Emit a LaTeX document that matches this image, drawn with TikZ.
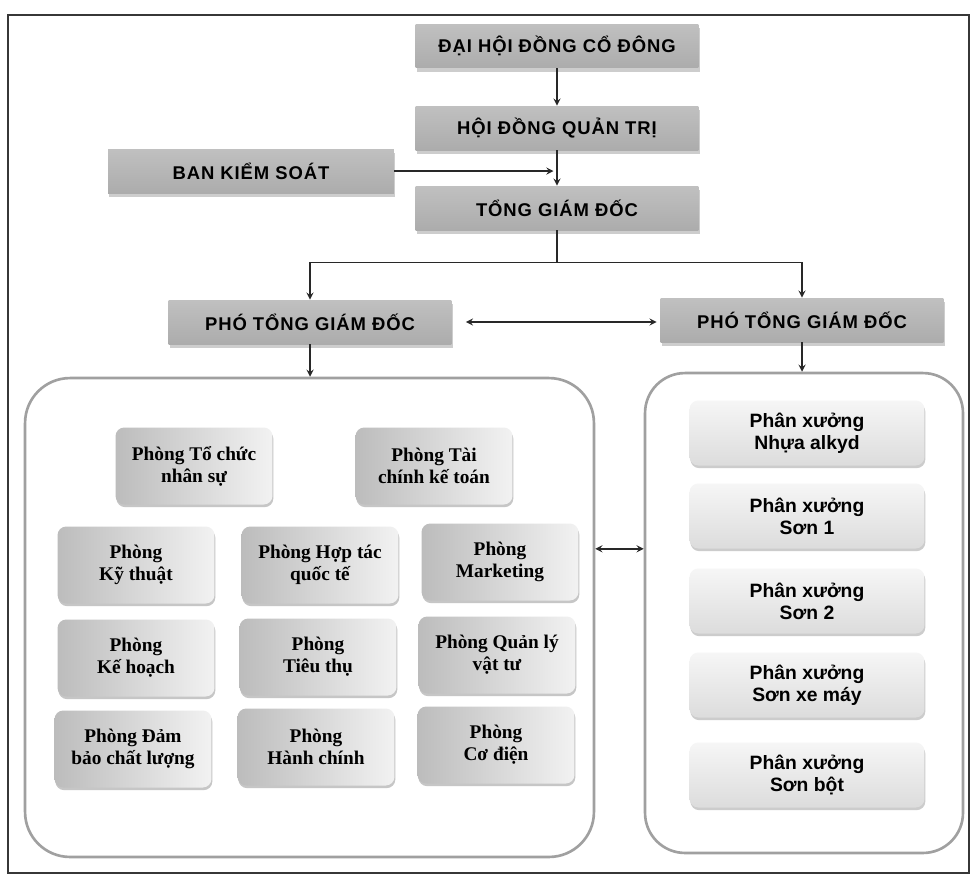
\documentclass[tikz,border=0pt]{standalone}
\usepackage{fontspec}
\setmainfont{Liberation Serif}
\setsansfont{Liberation Sans}
\newfontfamily\capsfont[LetterSpace=5]{Liberation Sans}
\usepackage{tikz}
\usetikzlibrary{arrows,shapes,positioning,shadows}
\definecolor{hdgray}{RGB}{172,172,172}
\definecolor{hdgraytop}{RGB}{192,192,192}
\definecolor{hdshadow}{RGB}{205,205,205}
\definecolor{dpgray}{RGB}{188,188,188}
\definecolor{dplight}{RGB}{242,242,242}
\definecolor{wsgray}{RGB}{220,220,220}
\definecolor{wslight}{RGB}{246,246,246}
\definecolor{framegray}{RGB}{55,55,55}
\definecolor{boxline}{RGB}{160,160,160}
\definecolor{arrowgray}{RGB}{40,40,40}
\tikzstyle{header} = [rectangle, minimum width=5.66cm, minimum height=0.88cm, text centered, top color=hdgraytop, bottom color=hdgray, drop shadow={shadow xshift=0.6pt, shadow yshift=-2pt, fill=hdshadow, opacity=1}, font=\capsfont\bfseries\fontsize{10.5}{12}\selectfont]
\tikzstyle{dept} = [rectangle, rounded corners=5pt, minimum width=3.14cm, minimum height=1.54cm, align=center, left color=dpgray, right color=dplight, drop shadow={shadow xshift=0.5pt, shadow yshift=-1.5pt, fill=gray!45, opacity=1}, font=\bfseries\fontsize{11}{12.5}\selectfont]
\tikzstyle{shop} = [rectangle, rounded corners=5pt, minimum width=4.7cm, minimum height=1.3cm, align=center, top color=wslight, bottom color=wsgray, drop shadow={shadow xshift=0.5pt, shadow yshift=-1.5pt, fill=gray!40, opacity=1}, font=\sffamily\bfseries\fontsize{11}{12.5}\selectfont]
\tikzstyle{group} = [rectangle, rounded corners=0.9cm, draw=boxline, line width=1.5pt, fill=white]
\tikzstyle{arrow} = [thick,->,>=stealth,color=arrowgray]
\tikzstyle{biarrow} = [thick,<->,>=stealth,color=arrowgray]

\begin{document}
\begin{tikzpicture}[x=0.02cm, y=-0.02cm]
\useasboundingbox (0,0) rectangle (972,876);
\draw[framegray, line width=1pt] (8,15) rectangle (969,873);

% Management
\node (dhcd) [header] at (557,46) {ĐẠI HỘI ĐỒNG CỔ ĐÔNG};
\node (hdqt) [header] at (557,128) {HỘI ĐỒNG QUẢN TRỊ};
\node (tgd) [header] at (557,208) {TỔNG GIÁM ĐỐC};
\node (bks) [header, minimum width=5.72cm] at (251,171) {BAN KIỂM SOÁT};
\node (pho1) [header] at (310,322) {PHÓ TỔNG GIÁM ĐỐC};
\node (pho2) [header] at (802,320) {PHÓ TỔNG GIÁM ĐỐC};

% Arrows between levels
\draw[arrow] (dhcd) -- (hdqt);
\draw[arrow] (hdqt) -- (tgd);
\draw[arrow] (bks.east) -- ([xshift=-2pt]bks.east -| hdqt.south);
\draw[thick, arrowgray] (tgd.south) -- ++(0,32) coordinate (split);
\draw[arrow] (split) -| (pho1.north);
\draw[arrow] (split) -| (pho2.north);
\draw[biarrow, shorten <=8pt, shorten >=2pt] (pho1.east) -- (pho1.east -| pho2.west);

% Groups
\node (staff) [group, minimum width=11.38cm, minimum height=9.58cm] at (309.5,617.5) {};
\node (plant) [group, minimum width=6.36cm, minimum height=9.6cm, rounded corners=0.8cm] at (804,613) {};
\draw[arrow] (pho1.south) -- (pho1.south |- staff.north);
\draw[arrow] (pho2.south) -- (pho2.south |- plant.north);

% Departments
\node (tcns) [dept] at (194,466) {Phòng Tổ chức\\nhân sự};
\node (tckt) [dept] at (434,466) {Phòng Tài\\chính kế toán};
\node (kt) [dept] at (136,565) {Phòng\\Kỹ thuật};
\node (htqt) [dept] at (320,565) {Phòng Hợp tác\\quốc tế};
\node (mkt) [dept] at (500,562) {Phòng\\Marketing};
\node (kh) [dept] at (136,658) {Phòng\\Kế hoạch};
\node (tt) [dept] at (318,657) {Phòng\\Tiêu thụ};
\node (qlvt) [dept] at (497,655) {Phòng Quản lý\\vật tư};
\node (dbcl) [dept] at (133,749) {Phòng Đảm\\bảo chất lượng};
\node (hc) [dept] at (316,747) {Phòng\\Hành chính};
\node (cd) [dept] at (496,745) {Phòng\\Cơ điện};

% Workshops
\node (sx1) [shop] at (807,433) {Phân xưởng\\Nhựa alkyd};
\node (sx2) [shop] at (807,516) {Phân xưởng\\Sơn 1};
\node (sx3) [shop] at (807,601) {Phân xưởng\\Sơn 2};
\node (sx4) [shop] at (807,685) {Phân xưởng\\Sơn xe máy};
\node (sx5) [shop] at (807,775) {Phân xưởng\\Sơn bột};

\draw[biarrow] (staff.east |- sx2.south) -- (plant.west |- sx2.south);
\end{tikzpicture}
\end{document}
